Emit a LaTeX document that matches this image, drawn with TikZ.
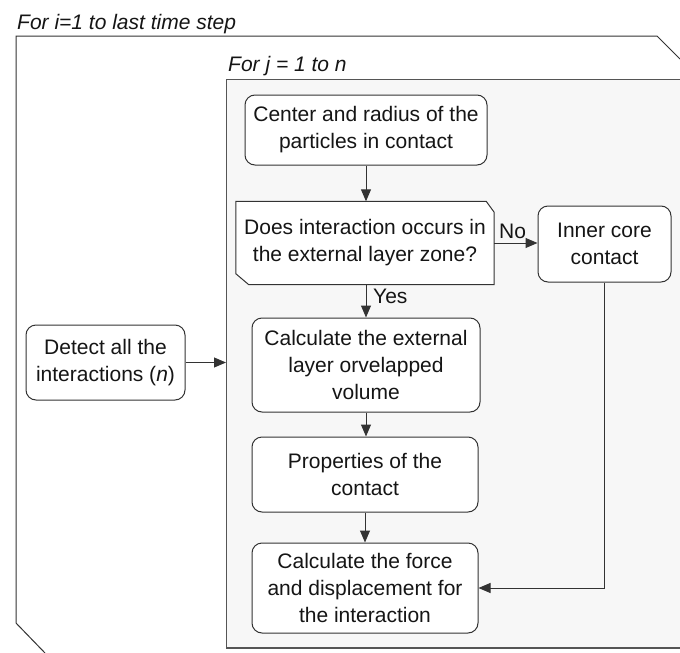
\documentclass[tikz,border=0pt]{standalone}
\usepackage{fontspec}
\setmainfont{Liberation Sans}
\usetikzlibrary{arrows.meta,calc}
\definecolor{edge}{HTML}{333333}
\definecolor{panel}{HTML}{F7F7F7}
\definecolor{panelline}{HTML}{555555}
\definecolor{ink}{HTML}{151515}
\tikzset{
  x=1pt, y=-1pt,
  every node/.style={font=\fontsize{21}{27}\selectfont, text=ink},
  procbox/.style={draw=edge, line width=1pt, fill=white, rounded corners=10pt,
    align=center, inner sep=0pt},
  flow/.style={draw=edge, line width=1pt, -{Triangle[length=12pt,width=10pt]}},
  looplabel/.style={font=\itshape\fontsize{21}{25}\selectfont, anchor=base west, inner sep=0pt},
  edgelabel/.style={inner sep=0pt, anchor=base west},
}
\begin{document}
\begin{tikzpicture}
\clip (0,0) rectangle (680,653);
\useasboundingbox (0,0) rectangle (680,653);

% outer loop: for each time step
\draw[edge, line width=1pt] (45,653) -- (16,623) -- (16,36) -- (657,36) -- (680,59);
\node[looplabel] (loopi) at (17,29) {For i=1 to last time step};

% inner loop: for each interaction
\fill[panel] (226,79) rectangle (700,648);
\draw[panelline, line width=1pt] (700,79) -- (226,79) -- (226,648);
\draw[panelline, line width=2pt] (226,648) -- (700,648);
\node[looplabel] (loopj) at (228,71) {For j = 1 to n};

% steps
\node[procbox, minimum width=242pt, minimum height=70pt] (centre) at (366,130)
  {Center and radius of the\\particles in contact};

% decision: card shape with two cut corners
\node[inner sep=0pt, minimum width=258pt, minimum height=83pt] (dec) at (365,243) {};
\filldraw[draw=edge, fill=white, line width=1pt] (dec.north west) -- ([xshift=-8pt]dec.north east)
  -- ([yshift=-11pt]dec.north east) -- (dec.south east) -- ([xshift=13pt]dec.south west)
  -- ([yshift=11pt]dec.south west) -- cycle;
\node[inner sep=0pt, align=center] (dectext) at (dec) {Does interaction occurs in\\the external layer zone?};

\node[procbox, minimum width=133pt, minimum height=76pt] (core) at (604.5,244)
  {Inner core\\contact};

\node[procbox, minimum width=228pt, minimum height=94pt] (ext) at (366,365)
  {Calculate the external\\layer orvelapped\\volume};

\node[procbox, minimum width=226pt, minimum height=75pt] (prop) at (365,474.5)
  {Properties of the\\contact};

\node[procbox, minimum width=226pt, minimum height=90pt] (force) at (365,588)
  {Calculate the force\\and displacement for\\the interaction};

\node[procbox, minimum width=159pt, minimum height=75pt] (detect) at (105.5,362.5)
  {Detect all the\\interactions (\textit{n})};

\coordinate (jin) at (226,362.5);

% connectors
\draw[flow] (centre.south) -- (centre.south |- dec.north);
\draw[flow] (dec.south -| centre.south) -- (ext.north -| centre.south);
\draw[flow] (ext.south) -- (prop.north -| ext.south);
\draw[flow] (prop.south) -- (force.north);
\draw[flow] (dec.east) -- (dec.east -| core.west);
\draw[flow] (core.south) |- (force.east);
\draw[flow] (detect.east) -- (jin);

\node[edgelabel] (yes) at (373,303) {Yes};
\node[edgelabel] (no) at (499,238) {No};
\end{tikzpicture}
\end{document}
